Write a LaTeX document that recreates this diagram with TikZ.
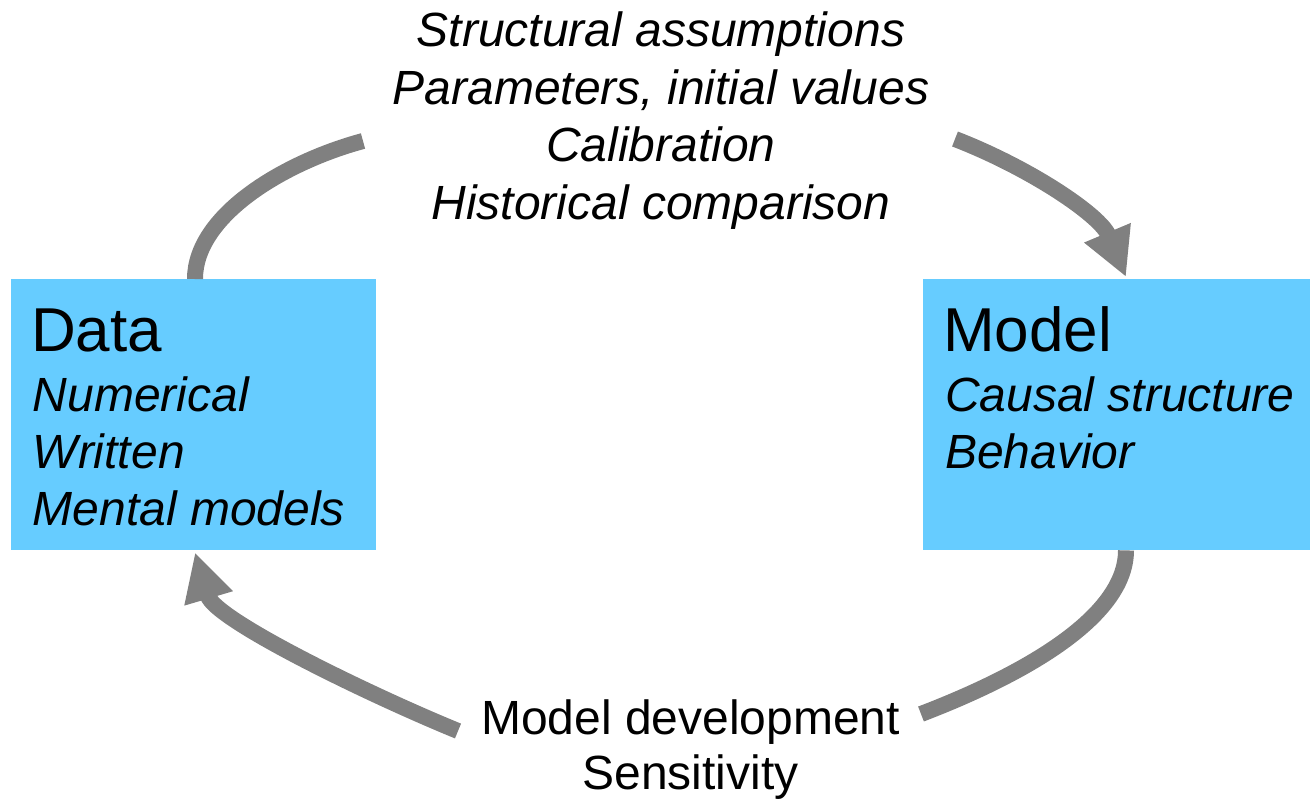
\documentclass[tikz,border=0pt]{standalone}
\usepackage{fontspec}
\setmainfont{Liberation Sans}
\usetikzlibrary{arrows.meta,calc}
\definecolor{boxblue}{HTML}{66CCFF}
\definecolor{arrowgray}{HTML}{808080}
\begin{document}
\begin{tikzpicture}[x=1pt,y=-1pt,
  box/.style={fill=boxblue, draw=none, inner sep=0pt, anchor=north west},
  bigtitle/.style={anchor=base west, inner sep=0pt, font=\fontsize{62}{70}\selectfont},
  item/.style={anchor=base west, inner sep=0pt, font=\fontsize{48}{57}\selectfont\itshape},
  toptext/.style={anchor=base, inner sep=0pt, font=\fontsize{48}{57}\selectfont\itshape},
  bottext/.style={anchor=base, inner sep=0pt, font=\fontsize{48}{57}\selectfont},
  flow/.style={draw=arrowgray, line width=16pt},
  flowtip/.style={flow, -{Triangle[length=48pt,width=47pt]}}
]
\useasboundingbox (0,0) rectangle (1310,801);

% boxes
\node[box, minimum width=365pt, minimum height=271pt] (data) at (11,279) {};
\node[box, minimum width=387pt, minimum height=271pt] (model) at (923,279) {};

% box texts
\node[bigtitle] (dataT) at (31,351.7) {Data};
\node[item] (d1) at (32.5,411.7) {Numerical};
\node[item] (d2) at (32.5,468.5) {Written};
\node[item] (d3) at (32.5,525) {Mental models};

\node[bigtitle] (modelT) at (943,351.7) {Model};
\node[item] (m1) at (945,411.7) {Causal structure};
\node[item] (m2) at (945,468) {Behavior};

% top labels
\node[toptext] (t1) at (661,46.7) {Structural assumptions};
\node[toptext] (t2) at (661,104) {Parameters, initial values};
\node[toptext] (t3) at (661,161.5) {Calibration};
\node[toptext] (t4) at (661,219) {Historical comparison};

% bottom labels
\node[bottext] (b1) at (690.5,734) {Model development};
\node[bottext] (b2) at (690.5,789) {Sensitivity};

% free ends of the flows
\coordinate (tl) at (363,141);
\coordinate (tr) at (955,139);
\coordinate (br) at (921,714);
\coordinate (bl) at (458,731);

% flows
\draw[flow] ($(data.north west)+(184,0)$) .. controls (195,215) and (285,162) .. (tl);
\draw[flowtip] (tr) .. controls (1030,168) and (1100,215) .. ($(model.north west)+(203,-2)$);
\draw[flow] ($(model.south west)+(203,0)$) .. controls (1126,620) and (1015,678) .. (br);
\draw[flowtip] (bl) .. controls (370,695) and (215,620) .. ($(data.south west)+(184,2)$);
\end{tikzpicture}
\end{document}
